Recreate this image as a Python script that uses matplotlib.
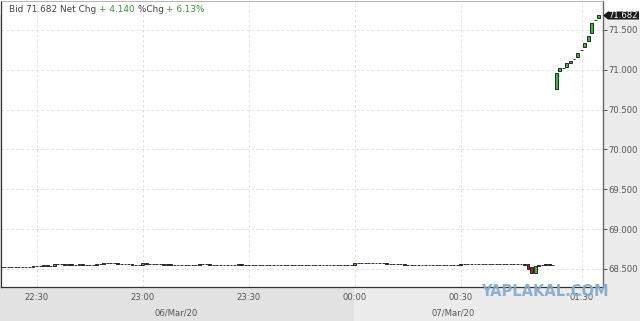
import matplotlib
matplotlib.use('Agg')
import matplotlib.pyplot as plt
from matplotlib.patches import Rectangle, Polygon

# ---------------- data ----------------
closes = [
    68.525, 68.525, 68.520, 68.520, 68.520, 68.530, 68.520, 68.525, 68.530, 68.535,
    68.535, 68.540, 68.545, 68.535, 68.540, 68.565, 68.560, 68.560, 68.555, 68.560,
    68.555, 68.555, 68.560, 68.550, 68.545, 68.550, 68.555, 68.560, 68.565, 68.570,
    68.572, 68.570, 68.570, 68.568, 68.565, 68.565, 68.560, 68.550, 68.548, 68.550,
    68.575, 68.565, 68.565, 68.560, 68.560, 68.560, 68.555, 68.560, 68.555, 68.550,
    68.550, 68.548, 68.550, 68.552, 68.555, 68.555, 68.560, 68.560, 68.558, 68.555,
    68.555, 68.552, 68.555, 68.555, 68.555, 68.552, 68.555, 68.560, 68.555, 68.548,
    68.548, 68.550, 68.550, 68.552, 68.550, 68.548, 68.550, 68.552, 68.555, 68.552,
    68.550, 68.550, 68.548, 68.550, 68.552, 68.550, 68.550, 68.548, 68.550, 68.550,
    68.552, 68.550, 68.548, 68.550, 68.550, 68.548, 68.545, 68.545, 68.545, 68.545,
    68.580, 68.578, 68.575, 68.572, 68.572, 68.570, 68.572, 68.570, 68.570, 68.568,
    68.568, 68.566, 68.565, 68.560, 68.556, 68.556, 68.556, 68.555, 68.556, 68.556,
    68.556, 68.556, 68.555, 68.556, 68.556, 68.556, 68.556, 68.556, 68.556, 68.556,
    68.558, 68.560, 68.562, 68.562, 68.562, 68.562, 68.562, 68.562, 68.562, 68.562,
    68.562, 68.562, 68.562, 68.564, 68.562, 68.562, 68.562, 68.558, 68.556, 68.500,
    68.450, 68.540, 68.555, 68.555, 68.558, 68.556, 68.556, 70.965, 71.025, 71.020,
    71.080, 71.115, 71.130, 71.210, 71.255, 71.340, 71.420, 71.590, 71.625, 71.682,
]
# opens that differ from the previous close (gaps / explicit bars)
open_special = {
    149: 68.560, 150: 68.525, 151: 68.450,
    157: 70.760, 158: 70.990, 160: 71.030, 161: 71.090, 162: 71.130,
    163: 71.155, 164: 71.255, 165: 71.290, 166: 71.360, 167: 71.460,
    168: 71.625, 169: 71.650,
}
tick_pos = [10, 40, 70, 100, 130, 164.2]
tick_labels = ["22:30", "23:00", "23:30", "00:00", "00:30", "01:30"]
y_ticks = [68.5, 69.0, 69.5, 70.0, 70.5, 71.0, 71.5]
bid = 71.682
net_chg = 4.140
pct_chg = 6.13
day_labels = ["06/Mar/20", "07/Mar/20"]

# ---------------- figure ----------------
W, H = 640, 321
fig = plt.figure(figsize=(W / 100, H / 100), dpi=100)
fig.patch.set_facecolor('white')

def fx(px):
    return px / W

def fy(py):
    return 1 - py / H

# bottom date band
fig.add_artist(Rectangle((0, 0), fx(354), 1 - fy(306), transform=fig.transFigure,
                         facecolor='#e2e2e2', edgecolor='none', zorder=0))
fig.add_artist(Rectangle((fx(354), 0), 1 - fx(354), 1 - fy(306), transform=fig.transFigure,
                         facecolor='#ececec', edgecolor='none', zorder=0))

ax = fig.add_axes([fx(0.5), fy(287), fx(603) - fx(0.5), fy(1) - fy(287)])
ax.set_facecolor('white')

opens = []
for i, c in enumerate(closes):
    if i in open_special:
        opens.append(open_special[i])
    elif i == 0:
        opens.append(c)
    else:
        opens.append(closes[i - 1])

idx = list(range(len(closes)))
bottoms, heights, colors = [], [], []
for o, c in zip(opens, closes):
    if c > o + 0.003:
        col = '#3db83d'
    elif c < o - 0.003:
        col = '#b02020'
    else:
        col = '#111111'
    colors.append(col)
    bottoms.append(min(o, c))
    heights.append(abs(c - o))

ax.bar(idx, heights, bottom=bottoms, width=0.82, color=colors,
       edgecolor='#111111', linewidth=0.6, zorder=3)

ax.set_xlim(-0.2, 170.2)
ax.set_ylim(68.274, 71.864)

ax.set_xticks(tick_pos)
ax.set_xticklabels(tick_labels)
ax.set_yticks(y_ticks)
ax.set_yticklabels([f"{v:.3f}" for v in y_ticks])
ax.yaxis.tick_right()
ax.tick_params(axis='y', labelsize=6.1, colors='#555555', length=3, width=0.7, pad=1)
ax.tick_params(axis='x', labelsize=6.1, colors='#555555', length=0, pad=4.6)
for lab in ax.get_xticklabels() + ax.get_yticklabels():
    lab.set_color('#555555')

ax.grid(True, color='#dcdcdc', linestyle=(0, (3, 3)), linewidth=0.6, zorder=0)
ax.set_axisbelow(True)

for s in ['left', 'bottom']:
    ax.spines[s].set_color('#333333')
    ax.spines[s].set_linewidth(0.9)
ax.spines['right'].set_color('#666666')
ax.spines['right'].set_linewidth(1.0)
ax.spines['top'].set_color('#aaaaaa')
ax.spines['top'].set_linewidth(0.6)

# day labels
fig.text(fx(176), fy(313), day_labels[0], ha='center', va='center', fontsize=6.1, color='#555555')
fig.text(fx(453), fy(313), day_labels[1], ha='center', va='center', fontsize=6.1, color='#555555')

# last price marker
yb = ax.transData.transform((0, bid))[1]
py = H - yb
poly = Polygon([(fx(603), fy(py)), (fx(608), fy(py - 4)), (fx(639), fy(py - 4)),
                (fx(639), fy(py + 4)), (fx(608), fy(py + 4))], closed=True,
               transform=fig.transFigure, facecolor='#1a1a1a', edgecolor='none', zorder=5)
fig.add_artist(poly)
fig.text(fx(623), fy(py), f"{bid:.3f}", ha='center', va='center', fontsize=6.1,
         color='white', zorder=6)

# header
segments = [(f"Bid {bid:.3f} Net Chg ", '#444444'), (f"+ {net_chg:.3f}", '#3a9a3a'),
            (" %Chg ", '#444444'), (f"+ {pct_chg:.2f}%", '#3a9a3a')]
renderer = fig.canvas.get_renderer()
xpos = 9
for txt, col in segments:
    t = fig.text(fx(xpos), fy(10), txt, ha='left', va='center', fontsize=6.4, color=col, zorder=6)
    bb = t.get_window_extent(renderer=renderer)
    xpos += bb.width

# watermark (as in the reference image)
fig.text(fx(545), fy(292), "YAPLAKAL.COM", ha='center', va='center', fontsize=10.5,
         fontweight='bold', color='#7fa9cc', alpha=0.9, zorder=10)

fig.savefig('out.png', dpi=100)
